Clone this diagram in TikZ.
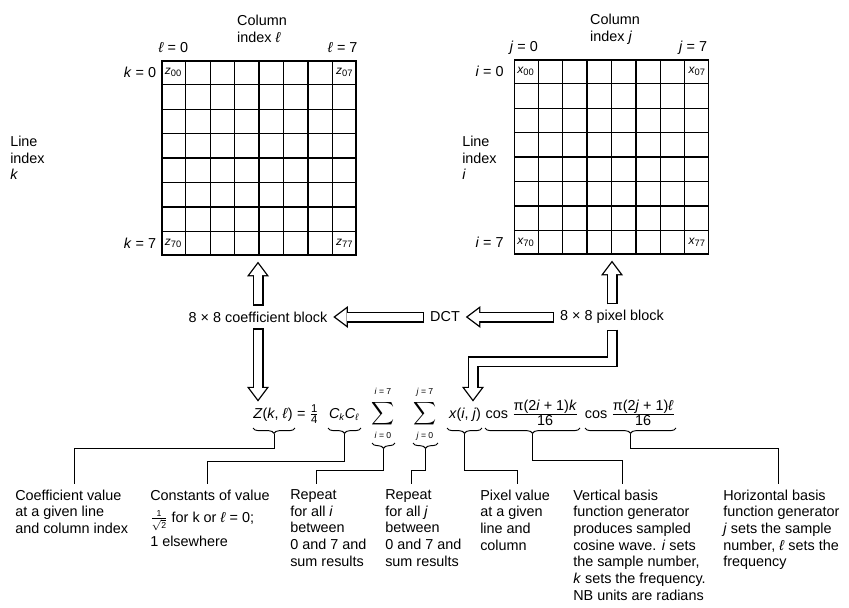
\documentclass[tikz,border=0pt]{standalone}
\usepackage{amsmath}
\usepackage{fontspec}
\setmainfont{Liberation Sans}
\usetikzlibrary{arrows.meta,decorations.pathreplacing,calc,positioning}

\newcommand\limsz{\fontsize{6.5}{7}\selectfont}
\newcommand\frsz{\fontsize{8.5}{9}\selectfont}
\newcommand\uplim[1]{\mbox{\limsz\rule[-4pt]{0pt}{4pt}#1}}
\newcommand\lowlim[1]{\mbox{\limsz\rule{0pt}{7pt}#1}}

\tikzset{
  txt/.style={font=\fontsize{10.8}{12.5}\selectfont, inner sep=0pt},
  lbl/.style={txt, align=left, anchor=north west, inner ysep=4pt},
  blk/.style={txt, outer sep=4.5pt},
  fml/.style={txt, anchor=base, outer sep=4.5pt},
  sigma/.style={fml, font=\fontsize{12}{12}\selectfont},
  cell/.style={inner sep=0pt, font=\fontsize{9}{10}\selectfont},
  gridbox/.style={draw, line width=1pt, minimum width=145.5pt, minimum height=145.5pt, inner sep=0pt},
  gridline/.style={line width=1pt},
  hollow/.style={line width=8.25pt, -{Triangle[length=11pt,width=16.5pt,line width=0pt]},
    postaction={draw=white, line width=6.25pt, -{Triangle[length=8.33pt,width=12.5pt,line width=0pt]},
      shorten >=1.67pt, shorten <=1pt}},
  ubrace/.style={decorate, decoration={brace, mirror, amplitude=4pt}, line width=0.7pt},
  leader/.style={line width=0.7pt},
}

\begin{document}
\begin{tikzpicture}[x=0.75pt, y=-0.75pt]
\useasboundingbox (0,0) rectangle (849,607);

% the two 8 x 8 blocks
\node[gridbox] (zgrid) at (259,158) {};
\node[gridbox] (xgrid) at (611.5,157) {};
\foreach \g in {zgrid,xgrid}
  \foreach \n in {1,...,7} {
    \draw[gridline] ($(\g.north west)!\n/8!(\g.north east)$) -- ($(\g.south west)!\n/8!(\g.south east)$);
    \draw[gridline] ($(\g.north west)!\n/8!(\g.south west)$) -- ($(\g.north east)!\n/8!(\g.south east)$);
  }

% coefficient block labels
\node[cell] (z00) at ($(zgrid.north west)+(12,12)$) {$\mbox{\itshape z}_{\mbox{\scriptsize 00}}$};
\node[cell] (z07) at ($(zgrid.north east)+(-12,12)$) {$\mbox{\itshape z}_{\mbox{\scriptsize 07}}$};
\node[cell] (z70) at ($(zgrid.south west)+(12,-12)$) {$\mbox{\itshape z}_{\mbox{\scriptsize 70}}$};
\node[cell] (z77) at ($(zgrid.south east)+(-12,-12)$) {$\mbox{\itshape z}_{\mbox{\scriptsize 77}}$};
\node[txt] (l0) at ($(zgrid.north west)+(12,-13)$) {\textit{ℓ} = 0};
\node[txt] (l7) at ($(zgrid.north east)+(-14,-13)$) {\textit{ℓ} = 7};
\node[txt, anchor=east] (k0) at ($(zgrid.north west)+(-5,12)$) {\textit{k} = 0};
\node[txt, anchor=east] (k7) at ($(zgrid.south west)+(-5,-12)$) {\textit{k} = 7};
\node[txt, align=left] (zcol) at (262,29) {Column\\index \textit{ℓ}};
\node[txt, align=left, anchor=west] (zline) at (10,158) {Line\\index\\\textit{k}};

% pixel block labels
\node[cell] (x00) at ($(xgrid.north west)+(12,12)$) {$\mbox{\itshape x}_{\mbox{\scriptsize 00}}$};
\node[cell] (x07) at ($(xgrid.north east)+(-12,12)$) {$\mbox{\itshape x}_{\mbox{\scriptsize 07}}$};
\node[cell] (x70) at ($(xgrid.south west)+(12,-12)$) {$\mbox{\itshape x}_{\mbox{\scriptsize 70}}$};
\node[cell] (x77) at ($(xgrid.south east)+(-12,-12)$) {$\mbox{\itshape x}_{\mbox{\scriptsize 77}}$};
\node[txt] (j0) at ($(xgrid.north west)+(10,-12)$) {\textit{j} = 0};
\node[txt] (j7) at ($(xgrid.north east)+(-16,-12)$) {\textit{j} = 7};
\node[txt, anchor=east] (i0) at ($(xgrid.north west)+(-10,12)$) {\textit{i} = 0};
\node[txt, anchor=east] (i7) at ($(xgrid.south west)+(-10,-12)$) {\textit{i} = 7};
\node[txt, align=left] (xcol) at (615,29) {Column\\index \textit{j}};
\node[txt, align=left, anchor=west] (xline) at (462,158) {Line\\index\\\textit{i}};

% middle row
\node[blk] (cb) at (258,317) {8 × 8 coefficient block};
\node[blk] (dct) at (445,317) {DCT};
\node[blk] (pb) at (612,317) {8 × 8 pixel block};

% the formula
\node[fml] (zkl) at (273,418) {\textit{Z}(\textit{k}, \textit{ℓ})};
\node[fml] (quarter) at (308,418) {= $\frac{\mbox{\frsz 1}}{\mbox{\frsz 4}}$};
\node[fml] (ckcl) at (344,418) {\textit{C}$_{\mbox{\scriptsize\itshape k}}$\textit{C}$_{\mbox{\scriptsize\itshape ℓ}}$};
\node[sigma] (sumi) at (383,418) {$\displaystyle\sum_{\lowlim{\itshape i \upshape= 0}}^{\uplim{\itshape i \upshape= 7}}$};
\node[sigma] (sumj) at (425,418) {$\displaystyle\sum_{\lowlim{\itshape j \upshape= 0}}^{\uplim{\itshape j \upshape= 7}}$};
\node[fml] (xij) at (465,418) {\textit{x}(\textit{i}, \textit{j})};
\node[fml] (cosk) at (532,418) {cos $\frac{\mbox{π(2\textit{i} + 1)\textit{k}}}{\mbox{16}}$};
\node[fml] (cosl) at (630,418) {cos $\frac{\mbox{π(2\textit{j} + 1)\textit{ℓ}}}{\mbox{16}}$};

% hollow arrows
\draw[hollow] (cb.north) -- ($(cb.north |- zgrid.south)+(0,6)$);
\draw[hollow] (pb.north) -- ($(pb.north |- xgrid.south)+(0,6)$);
\draw[hollow] (dct.west) -- (cb.east);
\draw[hollow] (pb.west) -- (dct.east);
\draw[hollow] (cb.south) -- (cb.south |- zkl.north);
\draw[hollow] (pb.south) -- ++(0,32) -| ([xshift=6pt]xij.north);

% braces under the terms
\draw[ubrace] (253,428) -- (295,428) coordinate[midway] (bz);
\draw[ubrace] (328,428) -- (361,428) coordinate[midway] (bc);
\draw[ubrace] (372,443) -- (395,443) coordinate[midway] (bi);
\draw[ubrace] (413,443) -- (438,443) coordinate[midway] (bj);
\draw[ubrace] (447,428) -- (482,428) coordinate[midway] (bx);
\draw[ubrace] (485,428) -- (580,428) coordinate[midway] (bk);
\draw[ubrace] (585,428) -- (676,428) coordinate[midway] (bl);

% explanations
\node[lbl] (lcoef) at (15,484) {Coefficient value\\at a given line\\and column index};
\node[lbl] (lconst) at (150,484) {Constants of value\\[4pt]$\frac{\mbox{\limsz 1}}{\sqrt{\mbox{\limsz 2}}}$ for k or \textit{ℓ} = 0;\\[3pt]1 elsewhere};
\node[lbl] (lrepi) at (290,484) {Repeat\\for all \textit{i}\\between\\0 and 7 and\\sum results};
\node[lbl] (lrepj) at (385,484) {Repeat\\for all \textit{j}\\between\\0 and 7 and\\sum results};
\node[lbl] (lpix) at (480,484) {Pixel value\\at a given\\line and\\column};
\node[lbl] (lvert) at (573,484) {Vertical basis\\function generator\\produces sampled\\cosine wave. \textit{i} sets\\the sample number,\\\textit{k} sets the frequency.\\NB units are radians};
\node[lbl] (lhoriz) at (723,484) {Horizontal basis\\function generator\\\textit{j} sets the sample\\number, \textit{ℓ} sets the\\frequency};

\draw[leader] ($(bz)+(0,5.5)$) -- ++(0,14.5) -| ([xshift=44.25pt]lcoef.north west);
\draw[leader] ($(bc)+(0,5.5)$) -- ++(0,27.5) -| ([xshift=42.75pt]lconst.north west);
\draw[leader] ($(bi)+(0,5.5)$) -- ++(0,21.5) -| ([xshift=19.5pt]lrepi.north west);
\draw[leader] ($(bj)+(0,5.5)$) -- ++(0,21.5) -| ([xshift=19.5pt]lrepj.north west);
\draw[leader] ($(bx)+(0,5.5)$) -- ++(0,36.5) -| ([xshift=27.75pt]lpix.north west);
\draw[leader] ($(bk)+(0,5.5)$) -- ++(0,26.5) -| ([xshift=36.75pt]lvert.north west);
\draw[leader] ($(bl)+(0,5.5)$) -- ++(0,14.5) -| ([xshift=41.25pt]lhoriz.north west);
\end{tikzpicture}
\end{document}
